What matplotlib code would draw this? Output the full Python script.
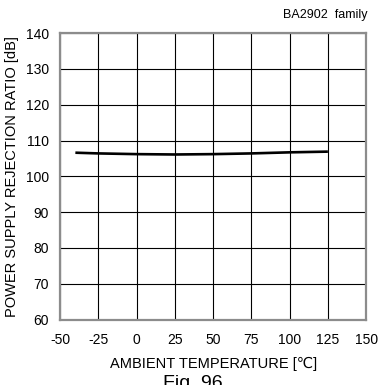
import matplotlib
matplotlib.use("Agg")
import matplotlib.pyplot as plt

plt.rcParams['font.family'] = ['Liberation Sans', 'DejaVu Sans']
plt.rcParams['axes.unicode_minus'] = False

# PSRR vs ambient temperature
temp = [-40, -25, 0, 25, 50, 75, 100, 125]
psrr = [106.6, 106.4, 106.2, 106.1, 106.2, 106.4, 106.7, 106.9]

x_ticks = [-50, -25, 0, 25, 50, 75, 100, 125, 150]
y_ticks = [60, 70, 80, 90, 100, 110, 120, 130, 140]

fig = plt.figure(figsize=(3.85, 3.85), dpi=100)
ax = fig.add_axes([0.156, 0.170, 0.795, 0.744])

ax.plot(temp, psrr, color='black', linewidth=1.9, solid_capstyle='butt', zorder=3)

ax.set_xlim(-50, 150)
ax.set_ylim(60, 140)
ax.set_xticks(x_ticks)
ax.set_yticks(y_ticks)
ax.grid(True, color='black', linewidth=0.8)
ax.tick_params(length=0, labelsize=10)
ax.tick_params(axis='x', pad=10)
ax.tick_params(axis='y', pad=8)

for s in ax.spines.values():
    s.set_color('#8c8c8c')
    s.set_linewidth(1.6)

ax.set_xlabel("AMBIENT TEMPERATURE [℃]", fontsize=10.5, labelpad=7)
ax.set_ylabel("POWER SUPPLY REJECTION RATIO [dB]", fontsize=10.5, labelpad=5)

fig.text(0.955, 0.962, "BA2902  family", fontsize=9, ha='right', va='center')
fig.text(0.5, 0.025, "Fig. 96", fontsize=14, ha='center', va='top')

fig.savefig("out.png", dpi=100)
